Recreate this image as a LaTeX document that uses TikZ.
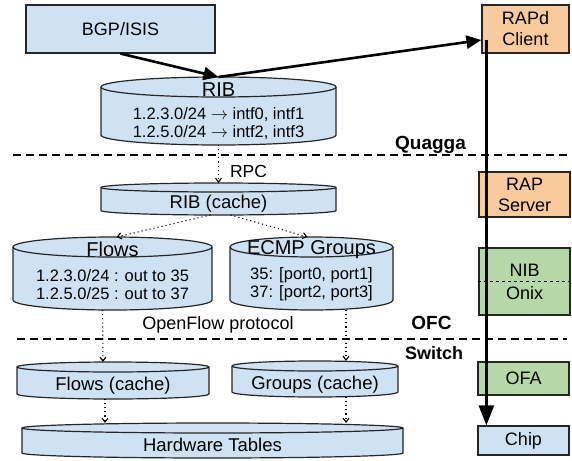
\documentclass[tikz,border=0pt]{standalone}
\usepackage{fontspec}
\setmainfont{Liberation Sans}
\usetikzlibrary{arrows.meta}

\definecolor{dbblue}{HTML}{CFE2F3}
\definecolor{raporange}{HTML}{F9CB9C}
\definecolor{onixgreen}{HTML}{B6D7A8}

\newcommand{\hdr}{\fontsize{20}{23}\selectfont}
\newcommand{\via}{\(\rightarrow\)}
% name, left, top, right, bottom, ellipse radius, text centre, text
\newcommand{\dbcyl}[8]{%
  \filldraw[db] ({#2},{-#3-#6}) -- ({#2},{-#5+#6})
    arc[start angle=180, end angle=360, x radius={(#4-#2)/2}, y radius=#6]
    -- ({#4},{-#3-#6})
    arc[start angle=0, end angle=180, x radius={(#4-#2)/2}, y radius=#6] -- cycle;
  \draw[db, fill=none] ({#2},{-#3-#6})
    arc[start angle=180, end angle=360, x radius={(#4-#2)/2}, y radius=#6];
  \coordinate (#1-top) at ({(#2+#4)/2},{-#3});
  \coordinate (#1-bot) at ({(#2+#4)/2},{-#5});
  \node[txt] (#1) at ({(#2+#4)/2},{-#7}) {#8};
}

\begin{document}
\begin{tikzpicture}[x=1pt, y=1pt,
  box/.style={draw=black!85, line width=1.2pt, align=center, inner sep=0pt,
    font=\fontsize{18}{21}\selectfont},
  db/.style={draw=black!85, line width=1.2pt, fill=dbblue},
  txt/.style={align=center, inner sep=0pt, font=\fontsize{16.5}{18}\selectfont},
  layer/.style={font=\bfseries\fontsize{19}{22}\selectfont},
  sep/.style={line width=1.4pt, dash pattern=on 8pt off 5pt},
  sync/.style={line width=1.1pt, dash pattern=on 1.1pt off 3pt,
    -{Straight Barb[length=4pt, width=6pt]}},
  push/.style={line width=2.6pt, -{Triangle[length=15pt, width=13pt]}},
  ]
  \useasboundingbox (0,0) rectangle (572,-460);

  % left column
  \node[box, fill=dbblue, minimum width=189, minimum height=48] (bgp) at (120.5,-29) {BGP/ISIS};
  \dbcyl{rib}{101}{77}{336}{145}{10}{111}{{\hdr RIB}\\[4.5pt]1.2.3.0/24 \via{} intf0, intf1\\1.2.5.0/24 \via{} intf2, intf3}
  \dbcyl{ribc}{101}{183}{336}{215}{4.5}{204}{\fontsize{18.5}{21}\selectfont RIB (cache)}
  \dbcyl{flows}{13}{237}{212}{310}{10}{271}{{\hdr Flows}\\[7pt]1.2.3.0/24 : out to 35\\1.2.5.0/25 : out to 37}
  \dbcyl{ecmp}{230}{237}{393}{310}{10}{271}{{\hdr ECMP Groups}\\[7pt]35: [port0, port1]\\37: [port2, port3]}
  \dbcyl{flowsc}{17}{362}{209}{399}{5}{386}{\fontsize{18.5}{21}\selectfont Flows (cache)}
  \dbcyl{groupsc}{232}{361}{398}{397}{5}{385}{\fontsize{18.5}{21}\selectfont Groups (cache)}
  \dbcyl{hw}{22}{423}{403}{458}{5}{445}{\fontsize{18.5}{21}\selectfont Hardware Tables}

  % right column
  \node[box, fill=raporange, minimum width=87, minimum height=48] (rapd) at (525.5,-29) {RAPd\\Client};
  \node[box, fill=raporange, minimum width=91, minimum height=45] (raps) at (524.5,-194.5) {RAP\\Server};
  \node[box, fill=onixgreen, minimum width=91, minimum height=67,
    font=\fontsize{18}{23}\selectfont] (nib) at (524.5,-281.5) {NIB\\Onix};
  \draw[dashed, line width=1.1pt] (nib.west) -- (nib.east);
  \node[box, fill=onixgreen, minimum width=91, minimum height=33] (ofa) at (523.5,-378.5) {OFA};
  \node[box, fill=dbblue, minimum width=91, minimum height=29] (chip) at (523.5,-440.5) {Chip};

  % layers
  \draw[sep] (13,-155) -- (567,-155);
  \draw[sep] (17,-339) -- (567,-339);
  \node[layer] (quagga) at (430.5,-145) {Quagga};
  \node[layer] (ofc) at (431.5,-323) {OFC};
  \node[layer, font=\bfseries\fontsize{18}{21}\selectfont] (switch) at (434,-353) {Switch};
  \node[txt, font=\fontsize{17.5}{20}\selectfont] (rpc) at (248.5,-171) {RPC};
  \node[txt, font=\fontsize{18}{21}\selectfont] (ofp) at (218,-325) {OpenFlow protocol};

  % route push
  \coordinate (tap) at ([xshift=5, yshift=-11]rapd.west);
  \draw[push] (bgp.south) -- (rib-top);
  \draw[push] (rib-top) -- ([yshift=-11]rapd.west);
  \draw[push, -{Triangle[length=20pt, width=15pt]}] (tap) -- (tap |- chip.north);

  % caches
  \draw[sync] (rib-bot) -- (ribc-top);
  \draw[sync] ([xshift=-8]ribc-bot) -- ([xshift=4]flows-top);
  \draw[sync] ([xshift=12]ribc-bot) -- ([xshift=-4]ecmp-top);
  \draw[sync] ([xshift=-10]flows-bot) -- ([xshift=-10]flowsc-top);
  \draw[sync] ([xshift=34.5]ecmp-bot) -- ([xshift=31]groupsc-top);
  \draw[sync] ([xshift=-8]flowsc-bot) -- ([xshift=-107.5]hw-top);
  \draw[sync] ([xshift=31]groupsc-bot) -- ([xshift=133.5]hw-top);
\end{tikzpicture}
\end{document}
